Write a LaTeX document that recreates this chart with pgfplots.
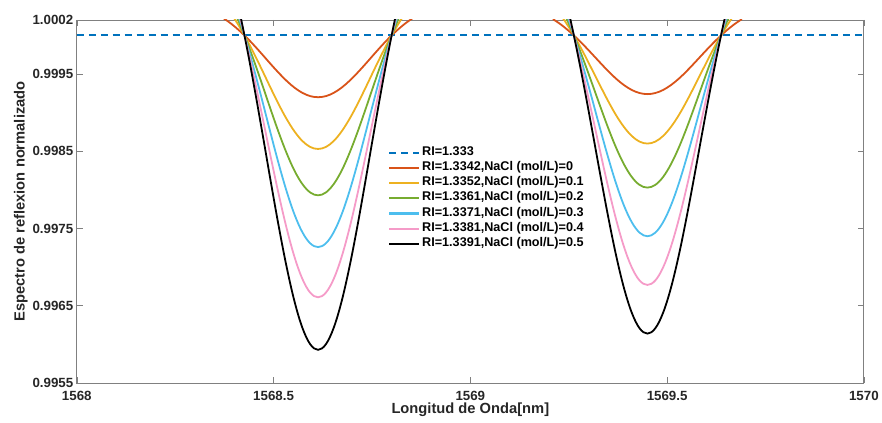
\documentclass[border=0pt]{standalone}
\usepackage{fontspec}
\setmainfont{Liberation Sans}
\usepackage{pgfplots}
\usepackage{pgfplotstable}
\pgfplotsset{compat=1.18}

\definecolor{mblue}{RGB}{0,114,189}
\definecolor{mred}{RGB}{217,83,25}
\definecolor{myellow}{RGB}{237,177,32}
\definecolor{mgreen}{RGB}{119,172,48}
\definecolor{mcyan}{RGB}{77,190,238}
\definecolor{mpink}{RGB}{245,155,200}

% first dip
\pgfplotstableread{
x        r0       r1       r2       r3       r4       r5
1568.373 1.000222 1.000408 1.000574 1.000760 1.000940 1.001128
1568.393 1.000148 1.000273 1.000384 1.000509 1.000629 1.000755
1568.413 1.000062 1.000115 1.000161 1.000214 1.000264 1.000317
1568.433 0.999965 0.999935 0.999908 0.999879 0.999850 0.999820
1568.453 0.999857 0.999737 0.999630 0.999510 0.999394 0.999272
1568.473 0.999743 0.999528 0.999335 0.999120 0.998911 0.998693
1568.493 0.999627 0.999315 0.999035 0.998723 0.998420 0.998103
1568.513 0.999515 0.999108 0.998744 0.998338 0.997944 0.997531
1568.533 0.999412 0.998919 0.998478 0.997985 0.997507 0.997007
1568.553 0.999324 0.998758 0.998250 0.997684 0.997135 0.996560
1568.573 0.999257 0.998634 0.998077 0.997454 0.996850 0.996218
1568.593 0.999214 0.998556 0.997967 0.997309 0.996671 0.996003
1568.613 0.999200 0.998530 0.997930 0.997260 0.996610 0.995930
1568.633 0.999214 0.998556 0.997967 0.997309 0.996671 0.996003
1568.653 0.999257 0.998634 0.998077 0.997454 0.996850 0.996218
1568.673 0.999324 0.998758 0.998250 0.997684 0.997135 0.996560
1568.693 0.999412 0.998919 0.998478 0.997985 0.997507 0.997007
1568.713 0.999515 0.999108 0.998744 0.998338 0.997944 0.997531
1568.733 0.999627 0.999315 0.999035 0.998723 0.998420 0.998103
1568.753 0.999743 0.999528 0.999335 0.999120 0.998911 0.998693
1568.773 0.999857 0.999737 0.999630 0.999510 0.999394 0.999272
1568.793 0.999965 0.999935 0.999908 0.999879 0.999850 0.999820
1568.813 1.000062 1.000115 1.000161 1.000214 1.000264 1.000317
1568.833 1.000148 1.000273 1.000384 1.000509 1.000629 1.000755
1568.853 1.000222 1.000408 1.000574 1.000760 1.000940 1.001128
}\dipA

% second dip
\pgfplotstableread{
x        r0       r1       r2       r3       r4       r5
1569.210 1.000211 1.000388 1.000546 1.000721 1.000896 1.001070
1569.230 1.000141 1.000260 1.000366 1.000483 1.000599 1.000716
1569.250 1.000059 1.000109 1.000154 1.000203 1.000252 1.000301
1569.270 0.999966 0.999938 0.999913 0.999885 0.999857 0.999829
1569.290 0.999864 0.999750 0.999648 0.999535 0.999422 0.999310
1569.310 0.999756 0.999550 0.999367 0.999165 0.998963 0.998760
1569.330 0.999646 0.999348 0.999082 0.998788 0.998495 0.998201
1569.350 0.999539 0.999151 0.998805 0.998423 0.998041 0.997659
1569.370 0.999441 0.998970 0.998551 0.998088 0.997625 0.997161
1569.390 0.999358 0.998817 0.998335 0.997802 0.997270 0.996737
1569.410 0.999294 0.998699 0.998169 0.997584 0.996999 0.996413
1569.430 0.999254 0.998625 0.998065 0.997447 0.996828 0.996209
1569.450 0.999240 0.998600 0.998030 0.997400 0.996770 0.996140
1569.470 0.999254 0.998625 0.998065 0.997447 0.996828 0.996209
1569.490 0.999294 0.998699 0.998169 0.997584 0.996999 0.996413
1569.510 0.999358 0.998817 0.998335 0.997802 0.997270 0.996737
1569.530 0.999441 0.998970 0.998551 0.998088 0.997625 0.997161
1569.550 0.999539 0.999151 0.998805 0.998423 0.998041 0.997659
1569.570 0.999646 0.999348 0.999082 0.998788 0.998495 0.998201
1569.590 0.999756 0.999550 0.999367 0.999165 0.998963 0.998760
1569.610 0.999864 0.999750 0.999648 0.999535 0.999422 0.999310
1569.630 0.999966 0.999938 0.999913 0.999885 0.999857 0.999829
1569.650 1.000059 1.000109 1.000154 1.000203 1.000252 1.000301
1569.670 1.000141 1.000260 1.000366 1.000483 1.000599 1.000716
1569.690 1.000211 1.000388 1.000546 1.000721 1.000896 1.001070
}\dipB

\begin{document}
\begin{tikzpicture}
\begin{axis}[
  scale only axis,
  width=789bp, height=364bp,
  xmin=1568, xmax=1570, ymin=0.9955, ymax=1.0002,
  xtick={1568,1568.5,1569,1569.5,1570},
  xticklabels={1568,1568.5,1569,1569.5,1570},
  ytick={0.9955,0.9965,0.9975,0.9985,0.9995,1.0002},
  yticklabels={0.9955,0.9965,0.9975,0.9985,0.9995,1.0002},
  /pgf/number format/assume math mode=true,
  tick align=inside,
  major tick length=6bp,
  axis line style={black!50, line width=0.8bp},
  tick style={black!50, line width=0.6bp},
  ticklabel style={font=\fontsize{13.4}{15}\selectfont\bfseries, text=black!85},
  xticklabel style={yshift=-4.5bp},
  label style={font=\fontsize{14.8}{16}\selectfont\bfseries, text=black!85},
  xlabel={Longitud de Onda[nm]},
  ylabel={Espectro de reflexion normalizado},
  xlabel style={yshift=4bp},
  ylabel style={yshift=-2bp},
  legend style={draw=none, fill=none, at={(0.394,0.658)}, anchor=north west,
    font=\fontsize{12.7}{14}\selectfont\bfseries,
    nodes={text height=8.2bp, text depth=3bp},
    row sep=0bp, inner sep=1bp},
  legend cell align=left,
  legend image code/.code={\draw[line width=2.2bp, #1] (0bp,0bp) -- (30bp,0bp);},
  every axis plot/.append style={line width=1.8bp, smooth, tension=0.6},
]
\addplot[draw=mblue, line width=2.2bp, dash pattern=on 7bp off 5bp, sharp plot] table {
x y
1568 1.0
1569 1.0
1570 1.0
};
\addlegendentry{RI=1.333}
\addplot[draw=mred] table[x=x,y=r0] {\dipA};
\addlegendentry{RI=1.3342,NaCl (mol/L)=0}
\addplot[draw=myellow] table[x=x,y=r1] {\dipA};
\addlegendentry{RI=1.3352,NaCl (mol/L)=0.1}
\addplot[draw=mgreen] table[x=x,y=r2] {\dipA};
\addlegendentry{RI=1.3361,NaCl (mol/L)=0.2}
\addplot[draw=mcyan] table[x=x,y=r3] {\dipA};
\addlegendentry{RI=1.3371,NaCl (mol/L)=0.3}
\addplot[draw=mpink] table[x=x,y=r4] {\dipA};
\addlegendentry{RI=1.3381,NaCl (mol/L)=0.4}
\addplot[draw=black] table[x=x,y=r5] {\dipA};
\addlegendentry{RI=1.3391,NaCl (mol/L)=0.5}
\addplot[draw=mred, forget plot] table[x=x,y=r0] {\dipB};
\addplot[draw=myellow, forget plot] table[x=x,y=r1] {\dipB};
\addplot[draw=mgreen, forget plot] table[x=x,y=r2] {\dipB};
\addplot[draw=mcyan, forget plot] table[x=x,y=r3] {\dipB};
\addplot[draw=mpink, forget plot] table[x=x,y=r4] {\dipB};
\addplot[draw=black, forget plot] table[x=x,y=r5] {\dipB};
\end{axis}
\path (current axis.south west) ++(-77bp,-40bp) coordinate (bbA);
\path (current axis.north east) ++(16bp,20bp) coordinate (bbB);
\useasboundingbox (bbA) rectangle (bbB);
\end{tikzpicture}
\end{document}
